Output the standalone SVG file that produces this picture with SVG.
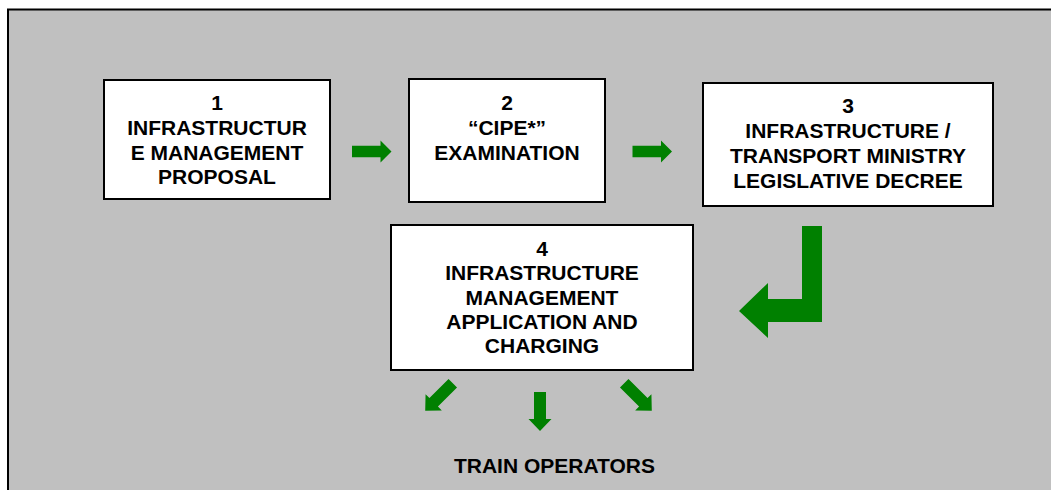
<svg xmlns="http://www.w3.org/2000/svg" width="1051" height="490" viewBox="0 0 1051 490">
  <style>
    .box { fill: #ffffff; stroke: #000000; stroke-width: 2; }
    .lbl { font-family: "Liberation Sans", Arial, sans-serif; font-weight: bold; font-size: 21px; fill: #000000; text-anchor: middle; }
    .arrow { fill: #008000; }
  </style>
  <defs>
    <!-- short block arrow pointing down, centred on the origin -->
    <polygon id="down" points="-6,-19.5 6,-19.5 6,7.5 11.5,7.5 0,19.5 -11.5,7.5 -6,7.5"/>
    <!-- short block arrow pointing right, centred on the origin -->
    <polygon id="right" points="-19.5,-5.8 9,-5.8 9,-11 20,0 9,11 9,5.8 -19.5,5.8"/>
  </defs>

  <!-- background panel -->
  <rect x="0" y="0" width="1051" height="490" fill="#ffffff"/>
  <rect x="8" y="9.5" width="1060" height="500" fill="#c0c0c0" stroke="#000000" stroke-width="2"/>

  <g id="node1">
    <rect class="box" x="104" y="80" width="226" height="119"/>
    <text class="lbl" x="217" y="110">1</text>
    <text class="lbl" x="217" y="135">INFRASTRUCTUR</text>
    <text class="lbl" x="217" y="160">E MANAGEMENT</text>
    <text class="lbl" x="217" y="184">PROPOSAL</text>
  </g>

  <g id="node2">
    <rect class="box" x="409" y="79" width="196" height="123"/>
    <text class="lbl" x="507" y="110">2</text>
    <text class="lbl" x="507" y="135">“CIPE*”</text>
    <text class="lbl" x="507" y="160">EXAMINATION</text>
  </g>

  <g id="node3">
    <rect class="box" x="703" y="83" width="290" height="123"/>
    <text class="lbl" x="848" y="113">3</text>
    <text class="lbl" x="848" y="138">INFRASTRUCTURE /</text>
    <text class="lbl" x="848" y="163">TRANSPORT MINISTRY</text>
    <text class="lbl" x="848" y="188">LEGISLATIVE DECREE</text>
  </g>

  <g id="node4">
    <rect class="box" x="391" y="225" width="302" height="145"/>
    <text class="lbl" x="542" y="256">4</text>
    <text class="lbl" x="542" y="280">INFRASTRUCTURE</text>
    <text class="lbl" x="542" y="305">MANAGEMENT</text>
    <text class="lbl" x="542" y="329">APPLICATION AND</text>
    <text class="lbl" x="542" y="353">CHARGING</text>
  </g>

  <g id="operators">
    <text class="lbl" x="554.5" y="473">TRAIN OPERATORS</text>
  </g>

  <g id="connectors">
    <use href="#right" class="arrow" transform="translate(371.5,151.5)"/>
    <use href="#right" class="arrow" transform="translate(652,151.5)"/>
    <polygon class="arrow" points="802,226 822,226 822,322 768,322 768,338 739,311 768,283 768,299 802,299"/>
    <use href="#down" class="arrow" transform="translate(439,397) rotate(45)"/>
    <use href="#down" class="arrow" transform="translate(540,411.5)"/>
    <use href="#down" class="arrow" transform="translate(638,397) rotate(-45)"/>
  </g>
</svg>
